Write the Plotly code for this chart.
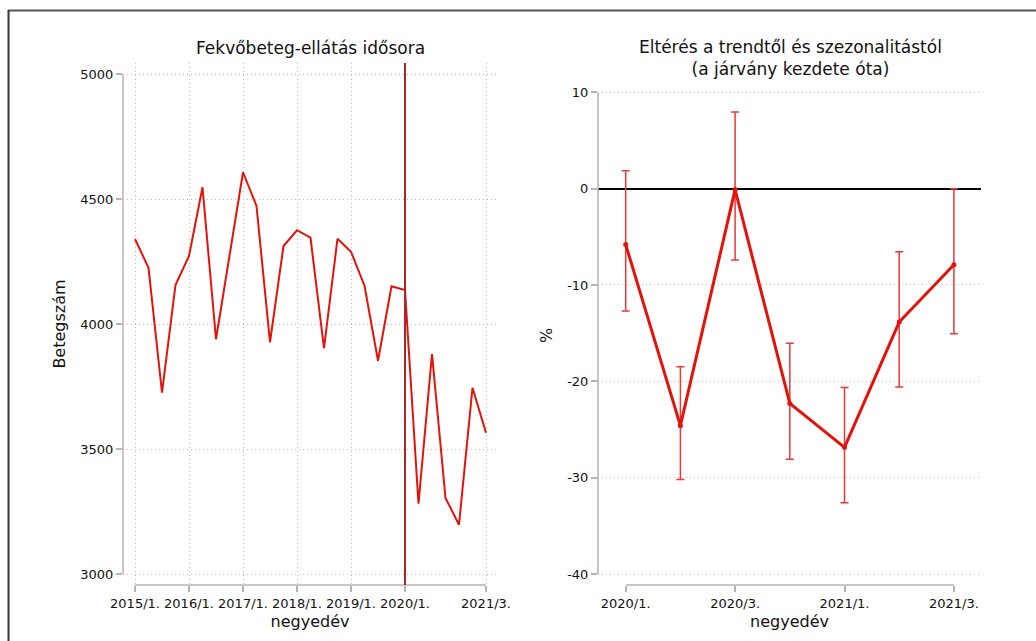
import plotly.graph_objects as go

W, H = 1036, 641

# Left panel data: quarterly inpatient counts 2015/1 .. 2021/3
quarters = ["2015/1", "2015/2", "2015/3", "2015/4", "2016/1", "2016/2", "2016/3", "2016/4",
            "2017/1", "2017/2", "2017/3", "2017/4", "2018/1", "2018/2", "2018/3", "2018/4",
            "2019/1", "2019/2", "2019/3", "2019/4", "2020/1", "2020/2", "2020/3", "2020/4",
            "2021/1", "2021/2", "2021/3"]
patients = [4340, 4225, 3725, 4156, 4272, 4547, 3939, 4270,
            4607, 4472, 3927, 4312, 4375, 4345, 3903, 4341,
            4289, 4153, 3853, 4151, 4136, 3281, 3880, 3304,
            3197, 3745, 3565]
left_tick_idx = [0, 4, 8, 12, 16, 20, 26]
left_tick_text = ["2015/1.", "2016/1.", "2017/1.", "2018/1.", "2019/1.", "2020/1.", "2021/3."]
left_yticks = [3000, 3500, 4000, 4500, 5000]
covid_start_idx = 20

# Right panel data: deviation from trend and seasonality (%)
dev_quarters = ["2020/1", "2020/2", "2020/3", "2020/4", "2021/1", "2021/2", "2021/3"]
deviation = [-5.8, -24.6, -0.1, -22.3, -26.85, -13.85, -7.9]
ci_upper = [1.85, -18.5, 7.95, -16.05, -20.65, -6.55, 0.0]
ci_lower = [-12.7, -30.2, -7.4, -28.1, -32.6, -20.6, -15.05]
right_tick_idx = [0, 2, 4, 6]
right_tick_text = ["2020/1.", "2020/3.", "2021/1.", "2021/3."]
right_yticks = [-40, -30, -20, -10, 0, 10]
right_ytick_text = ["-40", "-30", "-20", "-10", "0", "10"]

RED = "#e3120b"
DARKRED = "#a3282d"
GRID = "#bdbdbd"
AXIS = "#b5b5b5"
FONT = "DejaVu Sans"

def px_x(p):
    return p / W

def px_y(p):
    return 1 - p / H

fig = go.Figure()

xl = list(range(len(quarters)))
fig.add_trace(go.Scatter(x=xl, y=patients, mode="lines",
                         line=dict(color=RED, width=2), xaxis="x", yaxis="y",
                         showlegend=False, hoverinfo="x+y"))

xr = list(range(len(dev_quarters)))
err_plus = [u - d for u, d in zip(ci_upper, deviation)]
err_minus = [d - l for l, d in zip(ci_lower, deviation)]
fig.add_trace(go.Scatter(x=xr, y=deviation, mode="lines+markers",
                         line=dict(color=RED, width=3),
                         marker=dict(color=RED, size=5),
                         error_y=dict(type="data", symmetric=False, array=err_plus,
                                      arrayminus=err_minus, color="#e8393a",
                                      thickness=1.5, width=4),
                         xaxis="x2", yaxis="y2", showlegend=False))

# left axes geometry (pixels)
l_x0, l_x1 = 123, 497
l_y0, l_y1 = 63, 585  # top, bottom
l_step = 13.5
l_xr = [(l_x0 - 135) / l_step, (l_x1 - 135) / l_step]
l_ppu = 125 / 500.0
l_yr = [3000 - (l_y1 - 574) / l_ppu, 5000 + (74 - l_y0) / l_ppu]

r_x0, r_x1 = 598, 981
r_y0, r_y1 = 86, 585
r_step = 54.7
r_xr = [(r_x0 - 625.7) / r_step, (r_x1 - 625.7) / r_step]
r_ppu = (574 - 92.3) / 50.0
r_yr = [-40 - (r_y1 - 574) / r_ppu, 10 + (92.3 - r_y0) / r_ppu]

axis_common = dict(showline=False, ticks="outside", ticklen=6, automargin=False,
                   tickcolor=AXIS, tickwidth=1.5,
                   tickfont=dict(family=FONT, size=13, color="#111"),
                   gridcolor=GRID, griddash="1px,3px", gridwidth=1)

fig.update_layout(
    width=W, height=H, autosize=False,
    margin=dict(l=0, r=0, t=0, b=0, pad=0, autoexpand=False),
    paper_bgcolor="white", plot_bgcolor="white",
    font=dict(family=FONT, color="#111"),
    xaxis=dict(domain=[px_x(l_x0), px_x(l_x1)], range=l_xr, zeroline=False,
               tickvals=left_tick_idx, ticktext=left_tick_text, showgrid=True,
               title=dict(text="negyedév", font=dict(size=16), standoff=6),
               anchor="y", **axis_common),
    yaxis=dict(domain=[px_y(l_y1), px_y(l_y0)], range=l_yr, zeroline=False,
               tickvals=left_yticks, showgrid=True,
               title=dict(text="Betegszám", font=dict(size=16), standoff=10),
               anchor="x", **axis_common),
    xaxis2=dict(domain=[px_x(r_x0), px_x(r_x1)], range=r_xr, zeroline=False,
                tickvals=right_tick_idx, ticktext=right_tick_text, showgrid=False,
                title=dict(text="negyedév", font=dict(size=16), standoff=6),
                anchor="y2", **axis_common),
    yaxis2=dict(domain=[px_y(r_y1), px_y(r_y0)], range=r_yr,
                zeroline=True, zerolinecolor="black", zerolinewidth=2,
                tickvals=right_yticks, ticktext=right_ytick_text, showgrid=True,
                title=dict(text="%", font=dict(size=16), standoff=10),
                anchor="x2", **axis_common),
)

shapes = []
# separated axis lines (Stata style)
shapes.append(dict(type="line", xref="x domain", yref="y", x0=0, x1=0,
                   y0=left_yticks[0], y1=left_yticks[-1], line=dict(color=AXIS, width=1.5)))
shapes.append(dict(type="line", xref="x", yref="y domain", x0=left_tick_idx[0],
                   x1=left_tick_idx[-1], y0=0, y1=0, line=dict(color=AXIS, width=1.5)))
shapes.append(dict(type="line", xref="x2 domain", yref="y2", x0=0, x1=0,
                   y0=right_yticks[0], y1=right_yticks[-1], line=dict(color=AXIS, width=1.5)))
shapes.append(dict(type="line", xref="x2", yref="y2 domain", x0=right_tick_idx[0],
                   x1=right_tick_idx[-1], y0=0, y1=0, line=dict(color=AXIS, width=1.5)))
# covid start vertical line
shapes.append(dict(type="line", xref="x", yref="y domain", x0=covid_start_idx,
                   x1=covid_start_idx, y0=0, y1=1, line=dict(color=DARKRED, width=2)))
# outer frame
shapes.append(dict(type="line", xref="paper", yref="paper", x0=px_x(8), x1=1.0,
                   y0=px_y(10.5), y1=px_y(10.5), line=dict(color="#555", width=2)))
shapes.append(dict(type="line", xref="paper", yref="paper", x0=px_x(8.5), x1=px_x(8.5),
                   y0=px_y(10), y1=0, line=dict(color="#333", width=2)))
fig.update_layout(shapes=shapes)

fig.add_annotation(text="Fekvőbeteg-ellátás idősora", xref="paper", yref="paper",
                   x=px_x(310), y=px_y(48), xanchor="center", yanchor="middle",
                   showarrow=False, font=dict(family=FONT, size=17, color="#111"))
fig.add_annotation(text="Eltérés a trendtől és szezonalitástól<br>(a járvány kezdete óta)",
                   xref="paper", yref="paper", x=px_x(790), y=px_y(58),
                   xanchor="center", yanchor="middle", showarrow=False,
                   font=dict(family=FONT, size=17, color="#111"))

fig.write_html("out.html", config={"displayModeBar": False},
               post_script="document.body.style.margin='0';document.body.style.overflow='hidden';")
